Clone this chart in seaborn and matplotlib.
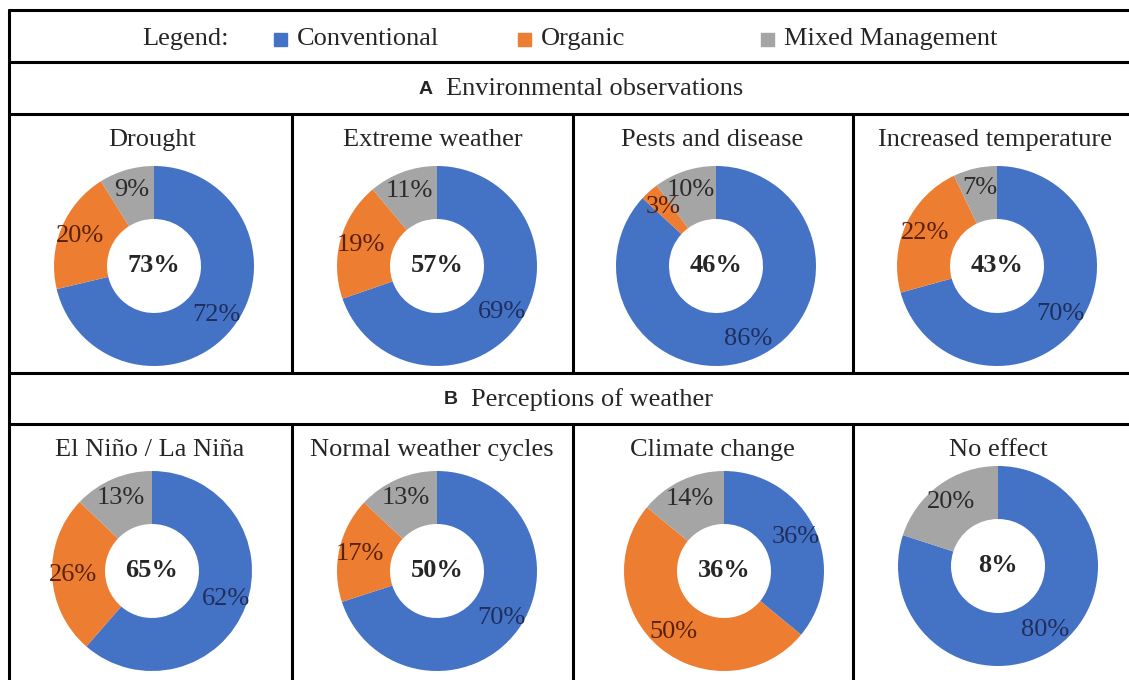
import matplotlib
matplotlib.use("Agg")
import matplotlib.pyplot as plt
from matplotlib.lines import Line2D
import seaborn as sns

# ---- data ----
categories = ["Conventional", "Organic", "Mixed Management"]
titles_a = ["Drought", "Extreme weather", "Pests and disease", "Increased temperature"]
conv_a = [72, 69, 86, 70]
org_a = [20, 19, 3, 22]
mixed_a = [9, 11, 10, 7]
center_a = ["73%", "57%", "46%", "43%"]

titles_b = ["El Niño / La Niña", "Normal weather cycles", "Climate change", "No effect"]
conv_b = [62, 70, 36, 80]
org_b = [26, 17, 50, 0]
mixed_b = [13, 13, 14, 20]
center_b = ["65%", "50%", "36%", "8%"]

section_a = ("A", "Environmental observations")
section_b = ("B", "Perceptions of weather")

sns.set_theme(style="white")
plt.rcParams['font.family'] = ['Liberation Serif', 'DejaVu Serif']

colors = ["#4472C4", "#ED7D31", "#A5A5A5"]
label_colors = ["#1F2E5C", "#5A2008", "#2B2B2B"]

W, H = 1129, 680
fig = plt.figure(figsize=(W / 100, H / 100), dpi=100)
fig.patch.set_facecolor("white")


def fx(x):
    return x / W


def fy(y):
    return 1 - y / H


def hline(y, x0=9, x1=W):
    fig.add_artist(Line2D([fx(x0), fx(x1)], [fy(y), fy(y)], color="black", lw=2.2,
                          transform=fig.transFigure))


def vline(x, y0, y1):
    fig.add_artist(Line2D([fx(x), fx(x)], [fy(y0), fy(y1)], color="black", lw=2.2,
                          transform=fig.transFigure))


# table grid
for y in [10, 62, 114, 373, 424]:
    hline(y)
vline(9, 10, H)
for x in [292, 573, 853]:
    vline(x, 114, 373)
    vline(x, 424, H)

FS = 19

# legend row
fig.text(fx(185), fy(39), "Legend:", ha="center", va="center", fontsize=FS)
leg_x = [281, 525, 768]
for cx, cat, col in zip(leg_x, categories, colors):
    fig.patches.append(plt.Rectangle((fx(cx - 7), fy(46)), 13 / W, 13 / H, color=col,
                                     transform=fig.transFigure, figure=fig))
    fig.text(fx(cx + 16), fy(39), cat, ha="left", va="center", fontsize=FS)

# section headers
def section(y, letter, text, xl):
    fig.text(fx(xl), fy(y), letter, ha="center", va="center", fontsize=14,
             fontweight="bold", family="Liberation Sans")
    fig.text(fx(xl + 20), fy(y), text, ha="left", va="center", fontsize=FS)

section(89, section_a[0], section_a[1], 426)
section(400, section_b[0], section_b[1], 451)

R_PX = 100
HOLE = 0.47


def donut(cx, cy, title, vals, center, title_x, title_y):
    size = 2 * R_PX * 1.25
    ax = fig.add_axes([fx(cx - size / 2), fy(cy + size / 2), size / W, size / H])
    labels = [f"{v}%" if v > 0 else "" for v in vals]
    wedges, texts, autotexts = ax.pie(
        vals, colors=colors, startangle=90, counterclock=False,
        wedgeprops=dict(width=1 - HOLE, edgecolor="none"),
        autopct=lambda p: "", pctdistance=(1 + HOLE) / 2 + 0.06)
    for at, lab, lc in zip(autotexts, labels, label_colors):
        at.set_text(lab)
        at.set_color(lc)
        at.set_fontsize(FS)
    ax.set_xlim(-1.25, 1.25)
    ax.set_ylim(-1.25, 1.25)
    ax.set_aspect("equal")
    ax.axis("off")
    ax.text(0, 0, center, ha="center", va="center", fontsize=FS, fontweight="bold")
    fig.text(fx(title_x), fy(title_y), title, ha="center", va="center", fontsize=FS)


centers_a = [(154, 266), (437, 266), (716, 266), (997, 266)]
tx_a = [152, 433, 712, 995]
for i in range(4):
    donut(centers_a[i][0], centers_a[i][1], titles_a[i],
          [conv_a[i], org_a[i], mixed_a[i]], center_a[i], tx_a[i], 140)

centers_b = [(152, 571), (437, 571), (724, 571), (998, 566)]
tx_b = [150, 432, 712, 998]
for i in range(4):
    donut(centers_b[i][0], centers_b[i][1], titles_b[i],
          [conv_b[i], org_b[i], mixed_b[i]], center_b[i], tx_b[i], 450)

fig.savefig("out.png", dpi=100, facecolor="white")
